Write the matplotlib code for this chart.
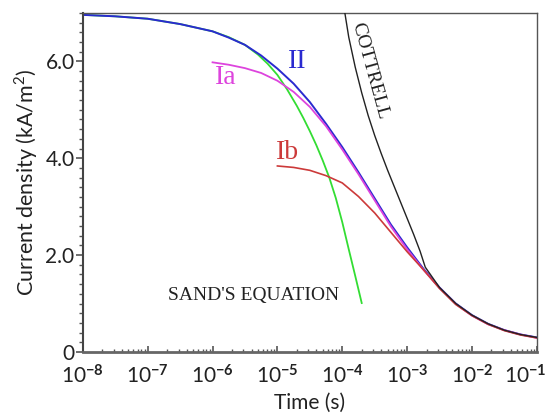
import numpy as np
import matplotlib
matplotlib.use("Agg")
import matplotlib.pyplot as plt
import matplotlib.transforms as mtransforms
from matplotlib.ticker import FixedLocator, LogLocator, NullFormatter

plt.rcParams['font.family'] = ['Lato', 'DejaVu Sans']
plt.rcParams['mathtext.fontset'] = 'custom'
plt.rcParams['mathtext.rm'] = 'Lato'
plt.rcParams['mathtext.bf'] = 'Lato:bold'

# log10 of time (s) and current density (kA/m2)
sand_logt = [-8, -7.5, -7, -6.5, -6, -5.75, -5.5, -5.3, -5.15, -5.0, -4.85, -4.7, -4.6,
             -4.5, -4.4, -4.3, -4.2, -4.1, -4.0, -3.9, -3.8, -3.7]
sand_j = [6.96, 6.93, 6.88, 6.77, 6.62, 6.50, 6.34, 6.14, 5.95, 5.72, 5.42, 5.08, 4.83,
          4.56, 4.27, 3.95, 3.60, 3.18, 2.68, 2.12, 1.57, 1.01]

ii_logt = [-8, -7.5, -7, -6.5, -6, -5.75, -5.5, -5.25, -5, -4.75, -4.5, -4.25, -4, -3.75,
           -3.5, -3.25, -3, -2.75, -2.5, -2.25, -2, -1.75, -1.5, -1.25, -1]
ii_j = [6.96, 6.93, 6.88, 6.77, 6.62, 6.49, 6.34, 6.12, 5.85, 5.54, 5.16, 4.71, 4.23, 3.71,
        3.17, 2.63, 2.16, 1.72, 1.33, 1.00, 0.76, 0.58, 0.45, 0.36, 0.30]

ia_logt = [-6, -5.75, -5.5, -5.25, -5, -4.75, -4.5, -4.25, -4, -3.75, -3.5, -3.25, -3,
           -2.75, -2.5, -2.25, -2, -1.75, -1.5, -1.25, -1]
ia_j = [5.98, 5.93, 5.86, 5.76, 5.60, 5.37, 5.06, 4.66, 4.18, 3.67, 3.13, 2.59, 2.12,
        1.70, 1.32, 0.99, 0.75, 0.57, 0.45, 0.36, 0.29]

ib_logt = [-5, -4.75, -4.5, -4.25, -4, -3.75, -3.5, -3.25, -3, -2.75, -2.5, -2.25, -2,
           -1.75, -1.5, -1.25, -1]
ib_j = [3.84, 3.81, 3.75, 3.64, 3.49, 3.21, 2.87, 2.47, 2.07, 1.70, 1.31, 0.98, 0.75,
        0.57, 0.44, 0.35, 0.29]

cot_logt = [-3.96, -3.9, -3.8, -3.7, -3.6, -3.5, -3.4, -3.3, -3.2, -3.1, -3.0, -2.9, -2.8,
            -2.72, -2.5, -2.25, -2, -1.75, -1.5, -1.25, -1]
cot_j = [7.0, 6.5, 5.88, 5.35, 4.88, 4.47, 4.10, 3.75, 3.42, 3.09, 2.76, 2.43, 2.08,
         1.75, 1.33, 1.00, 0.76, 0.58, 0.45, 0.36, 0.30]

fig = plt.figure(figsize=(5.45, 4.17), dpi=100)
ax = fig.add_axes([0.152, 0.156, 0.833, 0.813])

t = lambda lt: 10.0 ** np.array(lt)

ax.plot(t(cot_logt), cot_j, color='#222222', lw=1.0, zorder=5)
ax.plot(t(sand_logt), sand_j, color='#33dd33', lw=1.3)
ax.plot(t(ii_logt), ii_j, color='#2a2ad0', lw=1.4)
ax.plot(t(ia_logt), ia_j, color='#dd44dd', lw=1.3)
ax.plot(t(ib_logt), ib_j, color='#cc3a3a', lw=1.2)

serif = ['Liberation Serif', 'DejaVu Serif']
ax.text(10 ** -4.69, 6.0, 'II', color='#2a2ad0', fontsize=20, family=serif, ha='center', va='center')
ax.text(10 ** -5.80, 5.66, 'Ia', color='#dd44dd', fontsize=20, family=serif, ha='center', va='center')
ax.text(10 ** -4.84, 4.11, 'Ib', color='#cc3a3a', fontsize=20, family=serif, ha='center', va='center')
ax.text(10 ** -3.58, 5.80, 'COTTRELL', color='#222222', fontsize=14, family=serif,
        ha='center', va='center', rotation=-74.6, rotation_mode='anchor')
ax.text(10 ** -5.37, 1.16, "SAND'S EQUATION", color='#222222', fontsize=14, family=serif,
        ha='center', va='center')

ax.set_xscale('log')
ax.set_xlim(1e-8, 1e-1)
ax.set_ylim(0, 7)

decades = list(range(-8, 0))
ax.xaxis.set_major_locator(FixedLocator([10.0 ** d for d in decades]))
ax.set_xticklabels([r'$\mathregular{10^{\mathbf{%d}}}$' % d for d in decades])
ax.xaxis.set_minor_locator(LogLocator(base=10, subs=np.arange(2, 10), numticks=20))
ax.xaxis.set_minor_formatter(NullFormatter())

ax.set_yticks([0, 2, 4, 6])
ax.set_yticklabels(['0', '2.0', '4.0', '6.0'])
ax.set_yticks(np.arange(0, 7.01, 0.2), minor=True)

ax.tick_params(axis='x', which='major', direction='in', length=4, width=1.2, labelsize=15,
               colors='#555555', labelcolor='#222222', pad=9)
ax.tick_params(axis='x', which='minor', direction='in', length=2.5, width=1, colors='#555555')
ax.tick_params(axis='y', which='major', direction='out', length=5, width=1.2, labelsize=15,
               colors='#555555', labelcolor='#222222', pad=1)
ax.tick_params(axis='y', which='minor', direction='out', length=3, width=1, colors='#555555')

# last label would run off the right edge: nudge it left like the original
last = ax.get_xticklabels()[-1]
last.set_transform(last.get_transform() + mtransforms.ScaledTranslation(-12 / 100, 0, fig.dpi_scale_trans))

for side in ['top', 'right']:
    ax.spines[side].set_color('#555555')
    ax.spines[side].set_linewidth(1.0)
ax.spines['left'].set_color('#444444')
ax.spines['left'].set_linewidth(1.5)
ax.spines['bottom'].set_color('#666666')
ax.spines['bottom'].set_linewidth(2.0)

ax.set_xlabel('Time (s)', fontsize=15, color='#222222', labelpad=4)
ax.set_ylabel('Current density (kA/m$^2$)', fontsize=15.5, color='#222222', labelpad=4)

fig.savefig('out.png', dpi=100)
